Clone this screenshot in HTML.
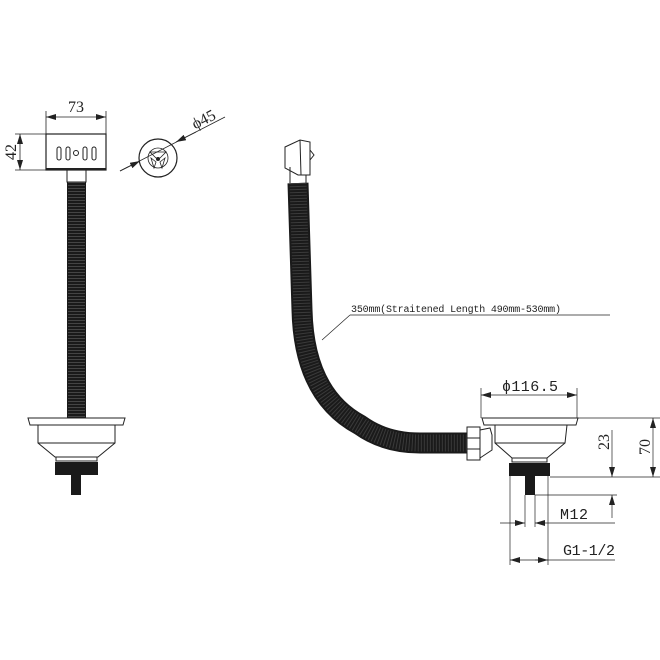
<!DOCTYPE html>
<html><head><meta charset="utf-8"><style>html,body{margin:0;padding:0;background:#fff}svg{display:block}</style></head>
<body>
<svg width="660" height="660" viewBox="0 0 660 660" xmlns="http://www.w3.org/2000/svg" font-family="'Liberation Serif', serif" fill="none" stroke="#222">
<defs>
<marker id="a" viewBox="0 0 10 6" refX="10" refY="3" markerWidth="10" markerHeight="6" orient="auto-start-reverse" markerUnits="userSpaceOnUse"><path d="M0,0 L10,3 L0,6z" fill="#222" stroke="none"/></marker>
</defs>
<!-- LEFT VIEW -->
<rect x="46" y="134" width="60" height="36" stroke-width="1.2"/>
<line x1="46" y1="169" x2="106" y2="169" stroke-width="2"/>
<g stroke-width="1">
<rect x="57" y="147" width="4" height="13" rx="2"/><rect x="66" y="147" width="4" height="13" rx="2"/>
<rect x="83" y="147" width="4" height="13" rx="2"/><rect x="92" y="147" width="4" height="13" rx="2"/>
<circle cx="76" cy="153" r="2.5"/></g>
<rect x="67" y="170" width="19" height="12" stroke-width="1"/>
<rect x="67" y="182" width="19" height="236" fill="#1a1a1a" stroke="none"/>
<line x1="76.5" y1="182" x2="76.5" y2="418" stroke="#444" stroke-width="17" stroke-dasharray="1 2"/>
<!-- dims 73 / 42 -->
<g stroke-width="0.8">
<line x1="46" y1="134" x2="46" y2="111"/><line x1="106" y1="134" x2="106" y2="111"/>
<line x1="46" y1="117" x2="106" y2="117" marker-start="url(#a)" marker-end="url(#a)"/>
<line x1="46" y1="134" x2="15" y2="134"/><line x1="46" y1="170" x2="15" y2="170"/>
<line x1="20" y1="134" x2="20" y2="170" marker-start="url(#a)" marker-end="url(#a)"/>
</g>
<text x="76" y="112" font-size="16" fill="#222" stroke="none" text-anchor="middle">73</text>
<text transform="translate(16,152) rotate(-90)" font-size="16" fill="#222" stroke="none" text-anchor="middle">42</text>
<!-- circle view -->
<circle cx="158" cy="158" r="19" stroke-width="1.2"/>
<circle cx="158" cy="158" r="10" stroke-width="0.8"/>
<path d="M150,152 L166,152 L160,158 L156,158z M151,158 L156,162 L154,168z M165,158 L160,162 L162,168z" stroke-width="0.8"/>
<circle cx="158" cy="159" r="1.5" fill="#222"/>
<line x1="120" y1="171" x2="225" y2="117" stroke-width="0.8"/>
<path d="M120,171 L140,161" stroke-width="0.8" marker-end="url(#a)"/>
<path d="M196,132 L176,142" stroke-width="0.8" marker-end="url(#a)"/>
<text transform="translate(206,124) rotate(-27)" font-size="16" fill="#222" stroke="none" text-anchor="middle">ϕ45</text>
<!-- left strainer -->
<g stroke-width="1">
<path d="M28,418 L125,418 L123,425 L30,425z"/>
<path d="M38,425 L38,443 L55,457 L98,457 L115,443 L115,425"/>
<line x1="38" y1="443" x2="115" y2="443"/>
<line x1="55" y1="457" x2="98" y2="457"/>
<rect x="56" y="457" width="41" height="4"/>
</g>
<rect x="55" y="462" width="43" height="13" fill="#1a1a1a" stroke="none"/>
<rect x="71" y="475" width="10" height="20" fill="#1a1a1a" stroke="none"/>
<!-- HOSE -->
<path d="M285,147 L300,140 L310,142 L310,175 L298,175 L285,168z" stroke-width="1"/>
<path d="M300,140 L301,175" stroke-width="1"/>
<path d="M310,150 L314,155 L310,160" stroke-width="1"/>
<line x1="290" y1="167" x2="290" y2="183" stroke-width="1"/><line x1="306" y1="175" x2="306" y2="183" stroke-width="1"/>
<path d="M298,183 L302,310 Q304,395 360,425 Q385,443 420,443 L467,443" stroke="#1a1a1a" stroke-width="21"/>
<path d="M298,183 L302,310 Q304,395 360,425 Q385,443 420,443 L467,443" stroke="#3a3a3a" stroke-width="17" stroke-dasharray="1 2"/>
<!-- leader -->
<line x1="322" y1="340" x2="350" y2="315" stroke-width="0.7"/>
<line x1="350" y1="315" x2="610" y2="315" stroke-width="0.7"/>
<text x="351" y="312" font-size="10" font-family="'Liberation Mono', monospace" fill="#222" stroke="none" textLength="210">350mm(Straitened Length 490mm-530mm)</text>
<!-- right strainer -->
<g stroke-width="1">
<path d="M467,427 L480,427 L480,460 L467,460z"/>
<line x1="467" y1="438" x2="480" y2="438"/><line x1="467" y1="449" x2="480" y2="449"/>
<path d="M480,430 L490,428 L492,435 L492,450 L480,458"/>
<path d="M482,418 L578,418 L576,425 L484,425z"/>
<path d="M495,425 L495,443 L512,458 L547,458 L565,443 L567,425"/>
<line x1="495" y1="443" x2="565" y2="443"/>
<rect x="512" y="458" width="35" height="4"/>
</g>
<rect x="509" y="463" width="41" height="13" fill="#1a1a1a" stroke="none"/>
<rect x="525" y="476" width="10" height="19" fill="#1a1a1a" stroke="none"/>
<g stroke-width="0.7">
<line x1="481" y1="418" x2="481" y2="388"/><line x1="577" y1="418" x2="577" y2="388"/>
<line x1="481" y1="395" x2="577" y2="395" marker-start="url(#a)" marker-end="url(#a)"/>
<line x1="578" y1="418" x2="660" y2="418"/><line x1="550" y1="477" x2="660" y2="477"/>
<line x1="535" y1="495" x2="617" y2="495"/>
<line x1="653" y1="418" x2="653" y2="477" marker-start="url(#a)" marker-end="url(#a)"/>
<line x1="612" y1="430" x2="612" y2="477" marker-end="url(#a)"/>
<line x1="612" y1="518" x2="612" y2="495" marker-end="url(#a)"/>
<line x1="510" y1="476" x2="510" y2="565"/><line x1="548" y1="476" x2="548" y2="565"/>
<line x1="525" y1="495" x2="525" y2="527"/><line x1="535" y1="495" x2="535" y2="527"/>
<line x1="500" y1="523" x2="525" y2="523" marker-end="url(#a)"/>
<line x1="615" y1="523" x2="535" y2="523" marker-end="url(#a)"/>
<line x1="510" y1="560" x2="615" y2="560" marker-start="url(#a)"/>
<line x1="535" y1="560" x2="548" y2="560" marker-end="url(#a)"/>
</g>
<text x="502" y="391" font-size="15" font-family="'Liberation Mono', monospace" fill="#222" stroke="none" textLength="56">ϕ116.5</text>
<text transform="translate(609,442) rotate(-90)" font-size="16" fill="#222" stroke="none" text-anchor="middle">23</text>
<text transform="translate(650,447) rotate(-90)" font-size="16" fill="#222" stroke="none" text-anchor="middle">70</text>
<text x="560" y="519" font-size="15" font-family="'Liberation Mono', monospace" fill="#222" stroke="none" textLength="28">M12</text>
<text x="563" y="555" font-size="15" font-family="'Liberation Mono', monospace" fill="#222" stroke="none" textLength="52">G1-1/2</text>
</svg>
</body></html>
